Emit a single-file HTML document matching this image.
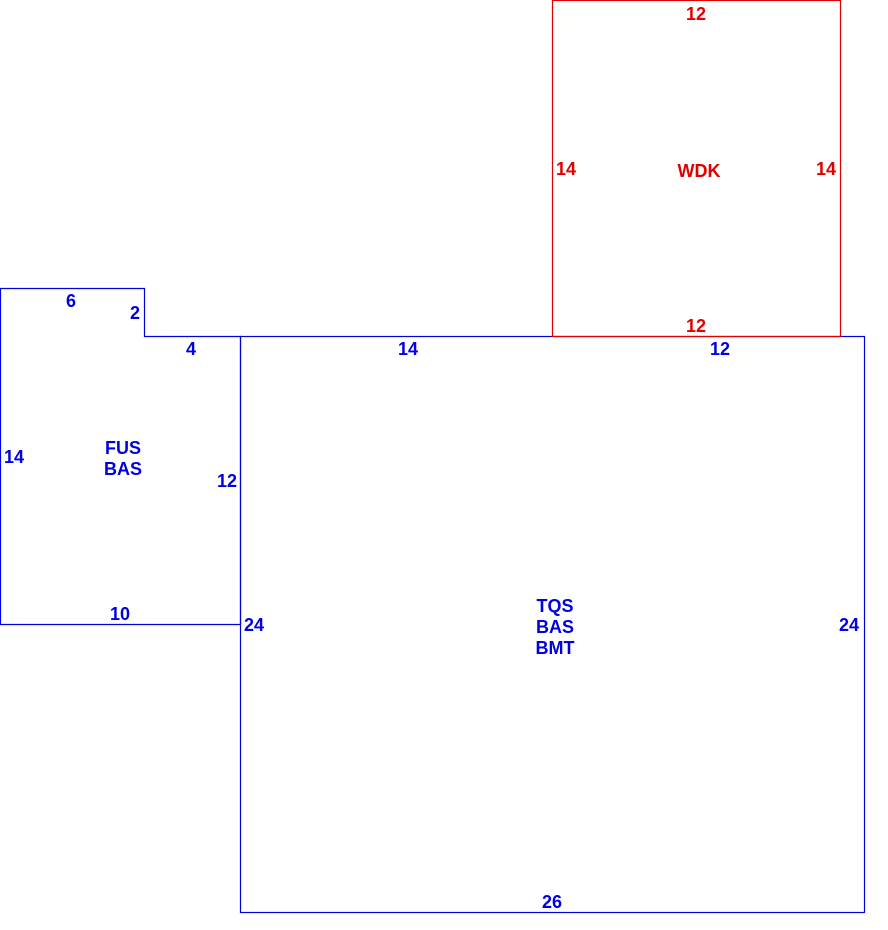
<!DOCTYPE html>
<html><head><style>
html,body{margin:0;padding:0;background:#fff;}
svg{display:block;}
text{font-family:"Liberation Sans",Arial,sans-serif;font-weight:bold;font-size:18px;text-anchor:middle;dominant-baseline:central;}
.b{fill:#0000e0;} .r{fill:#e00000;}
</style></head><body>
<svg width="888" height="930" viewBox="0 0 888 930" xmlns="http://www.w3.org/2000/svg">
<g fill="none" stroke-width="1.2">
<polygon points="0.5,288.5 144.5,288.5 144.5,336.5 240.5,336.5 240.5,624.5 0.5,624.5" stroke="#0000e0"/>
<rect x="240.5" y="336.5" width="624" height="576" stroke="#0000e0"/>
<rect x="552.5" y="0.5" width="288" height="336" stroke="#e00000"/>
</g>
<text class="r" x="696" y="14">12</text>
<text class="r" x="566" y="169">14</text>
<text class="r" x="699" y="171">WDK</text>
<text class="r" x="826" y="169">14</text>
<text class="r" x="696" y="326">12</text>
<text class="b" x="71" y="301">6</text>
<text class="b" x="135" y="313">2</text>
<text class="b" x="191" y="349">4</text>
<text class="b" x="408" y="349">14</text>
<text class="b" x="720" y="349">12</text>
<text class="b" x="14" y="457">14</text>
<text class="b" x="123" y="448">FUS</text>
<text class="b" x="123" y="469">BAS</text>
<text class="b" x="227" y="481">12</text>
<text class="b" x="120" y="614">10</text>
<text class="b" x="254" y="625">24</text>
<text class="b" x="555" y="606">TQS</text>
<text class="b" x="555" y="627">BAS</text>
<text class="b" x="555" y="648">BMT</text>
<text class="b" x="849" y="625">24</text>
<text class="b" x="552" y="902">26</text>
</svg>
</body></html>
